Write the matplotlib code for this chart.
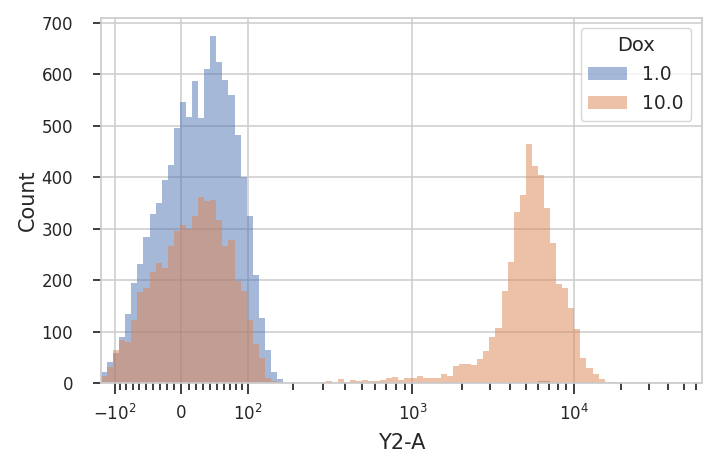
import numpy as np
import matplotlib
matplotlib.use('Agg')
import matplotlib.pyplot as plt
from matplotlib.patches import Patch
from matplotlib.ticker import FixedLocator, FixedFormatter

# logicle-like scale parameters (decade units)
LOGICLE_C = 31.13
LOGICLE_P = 2.0

# histogram bins, evenly spaced in scaled units
bin_start = -0.5127
bin_width = 0.038726
n_bins = 99

dox_levels = ['1.0', '10.0']

counts_dox1 = [22, 41, 58, 89, 134, 194, 231, 283, 329, 349,
               395, 423, 495, 546, 516, 586, 515, 609, 674, 623,
               589, 559, 481, 400, 325, 210, 127, 65, 22, 8,
               0, 0, 0, 0, 0, 0, 0, 0, 0, 0,
               0, 0, 0, 0, 0, 0, 0, 0, 0, 0,
               0, 0, 0, 0, 0, 0, 0, 0, 0, 0,
               0, 0, 0, 2, 0, 0, 0, 0, 0, 0,
               0, 1, 4, 4, 0, 2, 0, 0, 0, 2,
               0, 0, 0, 0, 0, 0, 0, 0, 0, 0,
               0, 0, 0, 0, 0, 0, 0, 0, 0]

counts_dox10 = [15, 31, 65, 84, 81, 123, 178, 185, 216, 233,
                224, 266, 295, 307, 300, 325, 361, 354, 356, 317,
                266, 279, 199, 180, 123, 76, 49, 10, 5, 3,
                0, 0, 0, 0, 0, 0, 3, 5, 1, 8,
                3, 6, 4, 6, 4, 4, 6, 10, 12, 6,
                10, 10, 14, 10, 10, 10, 18, 14, 34, 37,
                37, 36, 47, 63, 90, 107, 180, 235, 332, 365,
                464, 422, 405, 341, 272, 193, 185, 146, 105, 49,
                30, 18, 8, 0, 3, 0, 0, 0, 0, 0,
                0, 0, 0, 0, 0, 0, 0, 0, 0]

major_ticks = [-100, 0, 100, 1000, 10000]
major_labels = [r'$-10^2$', '0', r'$10^2$', r'$10^3$', r'$10^4$']
minor_ticks = ([-90, -80, -70, -60, -50, -40, -30, -20, -10,
                10, 20, 30, 40, 50, 60, 70, 80, 90]
               + [200, 300, 400, 500, 600, 700, 800, 900]
               + [2000, 3000, 4000, 5000, 6000, 7000, 8000, 9000]
               + [20000, 30000, 40000, 50000, 60000])


def logicle_inverse(u):
    """scaled value (decades from zero) -> data value"""
    u = np.asarray(u, dtype=float)
    a = np.abs(u)
    p = LOGICLE_P
    x = LOGICLE_C * (10 ** a - p ** 2 * 10 ** (-a / p) + p ** 2 - 1)
    return np.sign(u) * x


_u_grid = np.linspace(-4, 6, 200001)
_x_grid = logicle_inverse(_u_grid)


def logicle_forward(x):
    return np.interp(np.asarray(x, dtype=float), _x_grid, _u_grid)


def logicle_back(u):
    return np.interp(np.asarray(u, dtype=float), _u_grid, _x_grid)


plt.rcParams['font.family'] = 'DejaVu Sans'
fig, ax = plt.subplots(figsize=(7.19, 4.69), dpi=100)
fig.subplots_adjust(left=0.1405, right=0.976, top=0.9616, bottom=0.1827)

ax.set_xscale('function', functions=(logicle_forward, logicle_back))

edges = logicle_inverse(bin_start + bin_width * np.arange(n_bins + 1))
colors = ['#4C72B0', '#DD8452']
for counts, color in zip([counts_dox1, counts_dox10], colors):
    ax.stairs(counts, edges, fill=True, color=color, alpha=0.5,
              linewidth=0, zorder=2)

ax.set_xlim(edges[0], edges[-1])
ax.set_ylim(0, 708.75)

ax.xaxis.set_major_locator(FixedLocator(major_ticks))
ax.xaxis.set_major_formatter(FixedFormatter(major_labels))
ax.xaxis.set_minor_locator(FixedLocator(minor_ticks))
ax.set_yticks([0, 100, 200, 300, 400, 500, 600, 700])

ax.grid(True, color='#cccccc', linewidth=1.1, zorder=0)
ax.set_axisbelow(True)
for spine in ax.spines.values():
    spine.set_color('#cccccc')
    spine.set_linewidth(1.25)

ax.tick_params(axis='both', which='major', labelsize=12, color='#262626',
               labelcolor='#262626', width=1.25, length=6)
ax.tick_params(axis='y', which='major', pad=14)
ax.tick_params(axis='x', which='major', length=8, pad=7)
ax.tick_params(axis='x', which='minor', color='#262626', width=1.25,
               length=5)

ax.set_xlabel('Y2-A', fontsize=15, color='#262626', labelpad=6)
ax.set_ylabel('Count', fontsize=15, color='#262626', labelpad=3)

handles = [Patch(facecolor=c, alpha=0.5, linewidth=0) for c in colors]
leg = ax.legend(handles, dox_levels, title='Dox', loc='upper right',
                fontsize=13.5, title_fontsize=14, frameon=True,
                labelspacing=0.55, handlelength=2.1, borderaxespad=0.55,
                labelcolor='#262626')
leg.get_title().set_color('#262626')
leg.get_frame().set_edgecolor('#cccccc')

plt.savefig('out.png', dpi=100)
